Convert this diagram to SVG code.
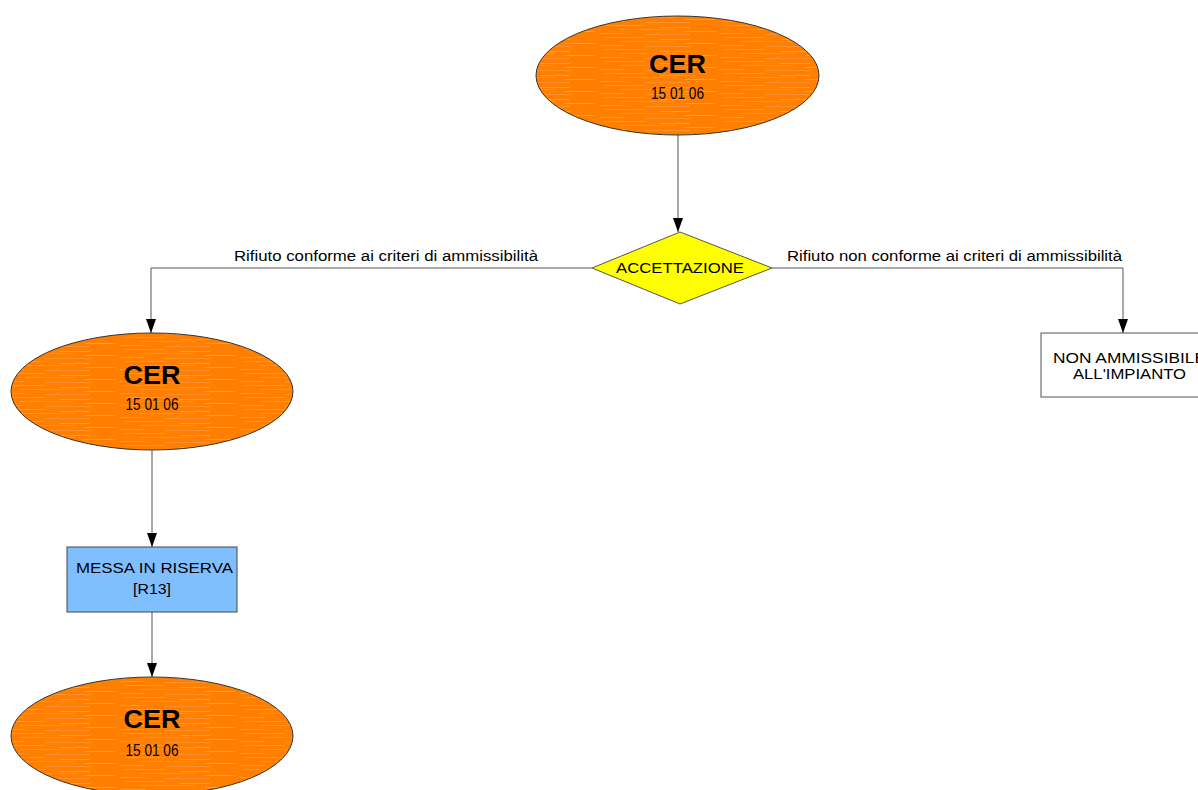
<svg xmlns="http://www.w3.org/2000/svg" width="1198" height="790" viewBox="0 0 1198 790">
<defs>
<pattern id="streaks" patternUnits="userSpaceOnUse" width="120" height="12">
<rect width="120" height="12" fill="#FF8000"/>
<rect x="5" y="1" width="40" height="1" fill="#FF9636"/>
<rect x="60" y="3" width="30" height="1" fill="#FF9A40"/>
<rect x="20" y="5" width="55" height="1" fill="#FF9030"/>
<rect x="85" y="7" width="30" height="1" fill="#FF9A40"/>
<rect x="0" y="9" width="25" height="1" fill="#FF9636"/>
<rect x="45" y="10" width="45" height="1" fill="#FF9030"/>
</pattern>
<marker id="arr" markerWidth="14" markerHeight="10" refX="14" refY="5" orient="auto" markerUnits="userSpaceOnUse" viewBox="0 0 14 10">
<path d="M0,0 L14,5 L0,10 Z" fill="#000"/>
</marker>
</defs>
<style>
.cer{fill:url(#streaks);stroke:#333;stroke-width:1}
.t{font-family:"Liberation Sans",Arial,sans-serif;fill:#000}
.big{font-size:26px;font-weight:bold}
.num{font-size:16px}
.lbl{font-size:14px}
.edge{fill:none;stroke:#555;stroke-width:1}
</style>
<rect width="1198" height="790" fill="#fff"/>
<g id="connectors">
<path class="edge" d="M678,135 L678,232" marker-end="url(#arr)"/>
<path class="edge" d="M592,268 L151,268 L151,333" marker-end="url(#arr)"/>
<path class="edge" d="M772,268 L1123,268 L1123,333" marker-end="url(#arr)"/>
<path class="edge" d="M152,450 L152,547" marker-end="url(#arr)"/>
<path class="edge" d="M152,612 L152,677" marker-end="url(#arr)"/>
<text class="t lbl" x="234" y="261" textLength="304" lengthAdjust="spacingAndGlyphs">Rifiuto conforme ai criteri di ammissibilità</text>
<text class="t lbl" x="787" y="261" textLength="335" lengthAdjust="spacingAndGlyphs">Rifiuto non conforme ai criteri di ammissibilità</text>
</g>
<g id="cer1">
<ellipse class="cer" cx="677.5" cy="75.5" rx="141.5" ry="59.5"/>
<text class="t big" x="677.5" y="73" text-anchor="middle" textLength="57" lengthAdjust="spacingAndGlyphs">CER</text>
<text class="t num" x="677.5" y="99" text-anchor="middle" textLength="53" lengthAdjust="spacingAndGlyphs">15 01 06</text>
</g>
<g id="accettazione">
<polygon points="680,232 772,268 680,304 592,268" fill="#FFFF00" stroke="#555" stroke-width="1"/>
<text class="t" x="680" y="273" text-anchor="middle" font-size="15" textLength="128" lengthAdjust="spacingAndGlyphs">ACCETTAZIONE</text>
</g>
<g id="nonammissibile">
<rect x="1041" y="333" width="170" height="64" fill="#fff" stroke="#555" stroke-width="1"/>
<text class="t" x="1053" y="363" font-size="15" textLength="153" lengthAdjust="spacingAndGlyphs">NON AMMISSIBILE</text>
<text class="t" x="1129.5" y="379" text-anchor="middle" font-size="15" textLength="113" lengthAdjust="spacingAndGlyphs">ALL'IMPIANTO</text>
</g>
<g id="cer2">
<ellipse class="cer" cx="152" cy="391.5" rx="141" ry="58.5"/>
<text class="t big" x="152" y="384" text-anchor="middle" textLength="57" lengthAdjust="spacingAndGlyphs">CER</text>
<text class="t num" x="152" y="410" text-anchor="middle" textLength="53" lengthAdjust="spacingAndGlyphs">15 01 06</text>
</g>
<g id="riserva">
<rect x="67" y="547" width="170" height="65" fill="#80BFFF" stroke="#444" stroke-width="1"/>
<text class="t" x="154.5" y="573" text-anchor="middle" font-size="15" textLength="157" lengthAdjust="spacingAndGlyphs">MESSA IN RISERVA</text>
<text class="t" x="152" y="594" text-anchor="middle" font-size="15" textLength="38" lengthAdjust="spacingAndGlyphs">[R13]</text>
</g>
<g id="cer3">
<ellipse class="cer" cx="152" cy="736" rx="141" ry="59"/>
<text class="t big" x="152" y="728" text-anchor="middle" textLength="57" lengthAdjust="spacingAndGlyphs">CER</text>
<text class="t num" x="152" y="756" text-anchor="middle" textLength="53" lengthAdjust="spacingAndGlyphs">15 01 06</text>
</g>
</svg>
